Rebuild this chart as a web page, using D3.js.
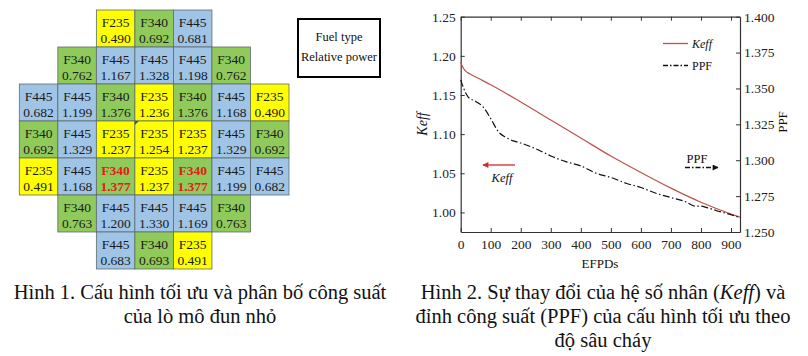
<!DOCTYPE html>
<html>
<head>
<meta charset="utf-8">
<script src="https://cdn.jsdelivr.net/npm/d3@7"></script>
<style>
  html, body { margin: 0; padding: 0; background: #fff; }
  svg { display: block; }
  text { font-family: "Liberation Serif", "Times New Roman", serif; }
</style>
</head>
<body>
<svg id="chart" width="808" height="356"></svg>
<script>
// ---------- Data: core map (Figure 1) ----------
const coreTypes = [
  [null, null, "F235", "F340", "F445", null, null],
  [null, "F340", "F445", "F445", "F445", "F340", null],
  ["F445", "F445", "F340", "F235", "F340", "F445", "F235"],
  ["F340", "F445", "F235", "F235", "F235", "F445", "F340"],
  ["F235", "F445", "F340", "F235", "F340", "F445", "F445"],
  [null, "F340", "F445", "F445", "F445", "F340", null],
  [null, null, "F445", "F340", "F235", null, null]
];
const corePower = [
  [null, null, 0.490, 0.692, 0.681, null, null],
  [null, 0.762, 1.167, 1.328, 1.198, 0.762, null],
  [0.682, 1.199, 1.376, 1.236, 1.376, 1.168, 0.490],
  [0.692, 1.329, 1.237, 1.254, 1.237, 1.329, 0.692],
  [0.491, 1.168, 1.377, 1.237, 1.377, 1.199, 0.682],
  [null, 0.763, 1.200, 1.330, 1.169, 0.763, null],
  [null, null, 0.683, 0.693, 0.491, null, null]
];
const fuelTypes = ["F235", "F340", "F445"];
const legendLines = ["Fuel type", "Relative power"];

// ---------- Data: burnup curves (Figure 2) ----------
const keffDays = [0, 5, 15, 30, 60, 100, 200, 300, 400, 500, 600, 700, 800, 900, 930];
const keff     = [1.192, 1.187, 1.181, 1.177, 1.171, 1.163, 1.141, 1.118, 1.095, 1.072, 1.051, 1.031, 1.013, 0.998, 0.994];
const ppfDays  = [0, 10, 25, 50, 75, 100, 125, 150, 175, 200, 250, 300, 350, 400, 450, 500, 550, 600, 650, 700, 750, 780, 800, 820, 850, 900, 930];
const ppf      = [1.356, 1.350, 1.344, 1.341, 1.337, 1.329, 1.320, 1.316, 1.3135, 1.312, 1.308, 1.303, 1.299, 1.296, 1.291, 1.288, 1.284, 1.281, 1.277, 1.274, 1.271, 1.268, 1.268, 1.267, 1.265, 1.262, 1.260];
const xTicks = [0, 100, 200, 300, 400, 500, 600, 700, 800, 900];
const keffTicks = [1.00, 1.05, 1.10, 1.15, 1.20, 1.25];
const ppfTicks = [1.250, 1.275, 1.300, 1.325, 1.350, 1.375, 1.400];
const seriesNames = ["Keff", "PPF"];

const caption1 = ["Hình 1. Cấu hình tối ưu và phân bố công suất", "của lò mô đun nhỏ"];
const caption2 = [["Hình 2. Sự thay đổi của hệ số nhân (", "Keff", ") và"], ["đỉnh công suất (PPF) của cấu hình tối ưu theo"], ["độ sâu cháy"]];

// ---------- Drawing ----------
const svg = d3.select("#chart");

// Figure 1: core map
const col = d3.scaleBand().domain(d3.range(7)).range([19.3, 289]).padding(0);
const row = d3.scaleBand().domain(d3.range(7)).range([10, 269]).padding(0);
const fill = d3.scaleOrdinal().domain(fuelTypes).range(["#ffff00", "#8fca5a", "#9fc4e6"]);
const maxP = d3.max(corePower.flat().filter(v => v != null));

const cells = [];
coreTypes.forEach((r, i) => r.forEach((t, j) => {
  if (t) cells.push({ i, j, t, p: corePower[i][j] });
}));

const g1 = svg.append("g");
const cg = g1.selectAll("g.cell").data(cells).join("g")
  .attr("transform", d => `translate(${col(d.j)},${row(d.i)})`);
cg.append("rect")
  .attr("width", col.bandwidth()).attr("height", row.bandwidth())
  .attr("fill", d => fill(d.t))
  .attr("stroke", "#5f6b6b").attr("stroke-width", 0.8);
cg.append("text")
  .attr("x", col.bandwidth() / 2).attr("y", 16.5)
  .attr("text-anchor", "middle").attr("font-size", 13.5)
  .attr("fill", d => d.p === maxP ? "#e0201b" : "#1a1a1a")
  .attr("font-weight", d => d.p === maxP ? "bold" : "normal")
  .text(d => d.t);
cg.append("text")
  .attr("x", col.bandwidth() / 2).attr("y", 33)
  .attr("text-anchor", "middle").attr("font-size", 13.5)
  .attr("fill", d => d.p === maxP ? "#e0201b" : "#1a1a1a")
  .attr("font-weight", d => d.p === maxP ? "bold" : "normal")
  .text(d => d3.format(".3f")(d.p));
// small cell marker in centre cell
g1.append("path")
  .attr("d", `M${col(3)},${row(3)}h4l-4,4z`)
  .attr("fill", "#1e7a1e");

// legend box
const lg = g1.append("g");
lg.append("rect").attr("x", 298).attr("y", 19).attr("width", 82).attr("height", 58)
  .attr("fill", "#fff").attr("stroke", "#000").attr("stroke-width", 2);
lg.selectAll("text").data(legendLines).join("text")
  .attr("x", 339).attr("y", (d, i) => 41 + i * 19.5)
  .attr("text-anchor", "middle").attr("font-size", 12.5).attr("fill", "#111")
  .text(d => d);

// Figure 2: chart
const x = d3.scaleLinear().domain([0, 930]).range([460.7, 740]);
const yL = d3.scaleLinear().domain([0.975, 1.25]).range([232, 16.7]);
const yR = d3.scaleLinear().domain([1.25, 1.40]).range([232, 16.7]);

const g2 = svg.append("g");
const axisColor = "#333";
function styleAxis(sel) {
  sel.select(".domain").attr("stroke", axisColor).attr("stroke-width", 1.2);
  sel.selectAll(".tick line").attr("stroke", axisColor).attr("stroke-width", 1);
  sel.selectAll(".tick text").attr("font-size", 13.5).attr("fill", "#222");
}
g2.append("g").attr("transform", `translate(0,${yL.range()[0]})`)
  .call(d3.axisBottom(x).tickValues(xTicks).tickSizeInner(-4).tickSizeOuter(0).tickPadding(7).tickFormat(d3.format("d")))
  .call(styleAxis);
g2.append("g").attr("transform", `translate(0,${yL.range()[1]})`)
  .call(d3.axisTop(x).tickValues(xTicks).tickSizeInner(-4).tickSizeOuter(0).tickFormat(""))
  .call(styleAxis);
g2.append("g").attr("transform", `translate(${x.range()[0]},0)`)
  .call(d3.axisLeft(yL).tickValues(keffTicks).tickSizeInner(-4).tickSizeOuter(0).tickPadding(5).tickFormat(d3.format(".2f")))
  .call(styleAxis);
g2.append("g").attr("transform", `translate(${x.range()[1]},0)`)
  .call(d3.axisRight(yR).tickValues(ppfTicks).tickSizeInner(-4).tickSizeOuter(0).tickPadding(4).tickFormat(d3.format(".3f")))
  .call(styleAxis);

const keffColor = "#c0504d";
const ppfDash = "7,2.5,1.5,2.5";
const lineK = d3.line().x((d, i) => x(keffDays[i])).y(d => yL(d)).curve(d3.curveMonotoneX);
const lineP = d3.line().x((d, i) => x(ppfDays[i])).y(d => yR(d)).curve(d3.curveMonotoneX);
g2.append("path").datum(keff).attr("d", lineK).attr("fill", "none")
  .attr("stroke", keffColor).attr("stroke-width", 1.2);
g2.append("path").datum(ppf).attr("d", lineP).attr("fill", "none")
  .attr("stroke", "#111").attr("stroke-width", 1.2).attr("stroke-dasharray", ppfDash);

// in-plot legend
const leg = g2.append("g");
[{ c: keffColor, dash: null, y: 43.5 }, { c: "#111", dash: "5,2,1.5,2", y: 65.5 }].forEach((s, i) => {
  leg.append("line").attr("x1", 663).attr("x2", 688).attr("y1", s.y).attr("y2", s.y)
    .attr("stroke", s.c).attr("stroke-width", 1.3).attr("stroke-dasharray", s.dash);
  leg.append("text").attr("x", 692).attr("y", s.y + 4.5).attr("font-size", 12)
    .attr("font-style", i === 0 ? "italic" : "normal").attr("fill", "#111").text(seriesNames[i]);
});

// arrows annotations
const defs = svg.append("defs");
defs.append("marker").attr("id", "arrR").attr("viewBox", "0 0 10 10").attr("refX", 9).attr("refY", 5)
  .attr("markerWidth", 7).attr("markerHeight", 6).attr("orient", "auto").attr("markerUnits", "userSpaceOnUse")
  .append("path").attr("d", "M0,0L10,5L0,10z").attr("fill", "#d42a2a");
defs.append("marker").attr("id", "arrB").attr("viewBox", "0 0 10 10").attr("refX", 9).attr("refY", 5)
  .attr("markerWidth", 7).attr("markerHeight", 6).attr("orient", "auto").attr("markerUnits", "userSpaceOnUse")
  .append("path").attr("d", "M0,0L10,5L0,10z").attr("fill", "#111");
g2.append("line").attr("x1", 515).attr("x2", 483).attr("y1", 165).attr("y2", 165)
  .attr("stroke", "#d42a2a").attr("stroke-width", 1.3).attr("marker-end", "url(#arrR)");
g2.append("text").attr("x", 502).attr("y", 182).attr("text-anchor", "middle").attr("font-size", 12.5)
  .attr("font-style", "italic").attr("fill", "#111").text(seriesNames[0]);
g2.append("text").attr("x", 697).attr("y", 163).attr("text-anchor", "middle").attr("font-size", 12.5)
  .attr("fill", "#111").text(seriesNames[1]);
g2.append("line").attr("x1", 685).attr("x2", 718).attr("y1", 167.5).attr("y2", 167.5)
  .attr("stroke", "#111").attr("stroke-width", 1.3).attr("stroke-dasharray", "5,2,1.5,2").attr("marker-end", "url(#arrB)");

// axis titles
g2.append("text").attr("transform", "translate(427,124) rotate(-90)").attr("text-anchor", "middle")
  .attr("font-size", 14).attr("font-style", "italic").attr("fill", "#111").text("Keff");
g2.append("text").attr("transform", "translate(787,122) rotate(-90)").attr("text-anchor", "middle")
  .attr("font-size", 13).attr("fill", "#111").text("PPF");
g2.append("text").attr("x", 600).attr("y", 268).attr("text-anchor", "middle")
  .attr("font-size", 13).attr("fill", "#111").text("EFPDs");

// captions
const cap = svg.append("g").attr("font-size", 20.5).attr("fill", "#111");
cap.selectAll("text.c1").data(caption1).join("text").attr("class", "c1")
  .attr("x", 200).attr("y", (d, i) => 299 + i * 24).attr("text-anchor", "middle").text(d => d);
caption2.forEach((parts, i) => {
  const t = cap.append("text").attr("x", 603).attr("y", 299 + i * 24).attr("text-anchor", "middle");
  parts.forEach((p, k) => t.append("tspan").attr("font-style", (i === 0 && k === 1) ? "italic" : null).text(p));
});
</script>
</body>
</html>
